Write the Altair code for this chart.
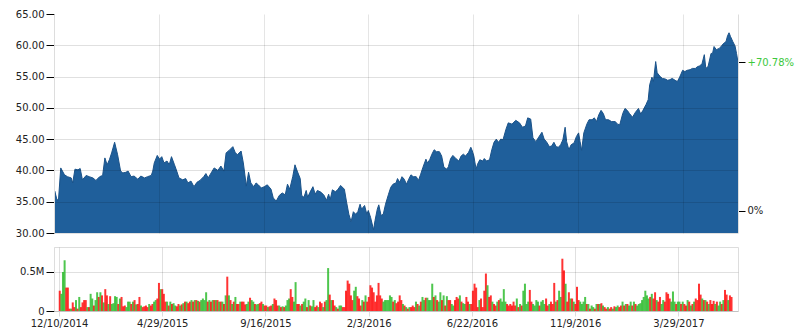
import altair as alt
import pandas as pd

# ---------------- data ----------------
start_date = "2014-12-10"
end_date = "2017-06-11"
tick_dates = ["2014-12-10", "2015-04-29", "2015-09-16", "2016-02-03",
              "2016-06-22", "2016-11-09", "2017-03-29"]

price_days = [
    0, 1, 4, 6, 9, 14, 18, 23, 25, 28,
    32, 35, 38, 43, 47, 52, 56, 61, 65, 68,
    71, 74, 77, 81, 85, 89, 92, 96, 99, 103,
    107, 112, 116, 121, 125, 130, 132, 134, 138, 141,
    144, 147, 151, 154, 157, 161, 164, 167, 172, 176,
    179, 183, 187, 191, 195, 200, 203, 206, 210, 214,
    219, 223, 227, 230, 234, 239, 242, 245, 250, 253,
    257, 260, 263, 267, 270, 273, 277, 281, 285, 290,
    293, 297, 301, 305, 309, 312, 315, 319, 322, 325,
    329, 331, 334, 337, 339, 342, 346, 349, 352, 357,
    361, 364, 367, 369, 372, 376, 379, 383, 388, 391,
    394, 397, 400, 403, 406, 409, 411, 415, 418, 420,
    423, 427, 429, 432, 434, 437, 440, 443, 447, 450,
    453, 457, 459, 462, 465, 468, 471, 474, 477, 480,
    484, 487, 490, 493, 497, 499, 502, 505, 508, 511,
    515, 518, 521, 525, 527, 530, 533, 537, 541, 544,
    547, 550, 554, 557, 559, 561, 564, 566, 569, 573,
    575, 578, 582, 585, 588, 591, 594, 597, 600, 604,
    607, 612, 617, 622, 626, 630, 633, 637, 640, 644,
    647, 652, 655, 658, 662, 665, 668, 671, 674, 677,
    680, 683, 685, 688, 691, 695, 698, 701, 703, 705,
    708, 712, 715, 719, 722, 725, 728, 731, 734, 737,
    741, 745, 750, 753, 756, 760, 763, 766, 769, 773,
    777, 781, 784, 787, 791, 794, 796, 799, 801, 804,
    806, 810, 813, 817, 820, 823, 826, 830, 833, 836,
    840, 843, 846, 850, 853, 857, 860, 863, 866, 869,
    871, 874, 878, 880, 882, 885, 889, 892, 894, 898,
    900, 902, 904, 907, 910, 912, 914,
]
prices = [
    33.55, 36.7, 35.3, 35.3, 40.4, 39.3, 39.0, 38.8, 38.0, 40.2,
    40.1, 40.3, 38.5, 39.2, 39.0, 38.8, 38.4, 39.0, 39.2, 42.0,
    40.9, 41.7, 42.8, 44.5, 42.5, 39.9, 39.6, 39.7, 39.9, 39.0,
    39.1, 38.6, 39.1, 38.8, 39.0, 39.2, 39.9, 41.2, 42.4, 41.8,
    42.2, 41.2, 41.5, 40.9, 42.2, 40.9, 39.9, 38.8, 38.5, 38.7,
    38.0, 38.3, 37.4, 38.1, 38.4, 39.0, 39.5, 38.8, 39.6, 40.4,
    40.0, 40.7, 39.9, 42.8, 43.2, 43.8, 42.9, 42.5, 43.1, 41.2,
    37.5, 39.7, 38.0, 37.4, 38.0, 37.7, 37.2, 37.4, 37.7, 37.0,
    35.6, 35.1, 36.0, 36.4, 36.1, 37.8, 37.0, 39.0, 40.9, 39.9,
    38.7, 36.0, 35.7, 36.8, 35.7, 36.5, 37.4, 36.2, 36.8, 36.5,
    36.0, 35.2, 36.2, 35.3, 36.9, 36.6, 36.9, 37.6, 37.0, 34.9,
    33.0, 31.8, 33.4, 33.0, 33.4, 34.6, 33.8, 34.4, 33.0, 33.6,
    32.5, 30.5, 32.0, 33.8, 34.5, 32.8, 33.0, 34.6, 36.2, 37.3,
    37.8, 38.0, 38.7, 38.1, 39.0, 38.6, 37.8, 38.6, 39.3, 39.0,
    39.0, 38.4, 39.4, 40.5, 41.8, 41.2, 41.7, 42.6, 43.3, 43.0,
    43.0, 42.3, 40.5, 40.2, 40.6, 41.9, 42.4, 41.9, 41.5, 42.3,
    42.6, 42.3, 42.9, 43.7, 43.1, 42.3, 40.2, 41.0, 41.7, 41.5,
    41.9, 41.5, 41.7, 43.3, 44.5, 45.0, 44.5, 45.0, 44.9, 46.6,
    47.6, 47.4, 48.0, 47.6, 46.9, 47.1, 48.4, 48.2, 45.2, 44.6,
    45.2, 46.1, 45.0, 44.6, 43.8, 43.9, 44.5, 43.8, 43.7, 44.1,
    44.9, 46.9, 44.6, 43.3, 44.1, 44.4, 45.4, 46.0, 44.6, 43.2,
    46.0, 47.4, 48.1, 48.1, 48.4, 47.8, 48.9, 49.6, 49.1, 48.1,
    48.1, 47.8, 47.8, 47.4, 47.3, 49.1, 49.9, 49.6, 49.1, 48.5,
    49.3, 49.9, 49.0, 49.6, 50.5, 51.3, 53.7, 54.9, 54.2, 57.4,
    55.6, 55.0, 54.7, 54.6, 54.4, 54.5, 54.7, 54.4, 54.2, 54.9,
    56.0, 55.8, 56.0, 56.1, 56.3, 56.3, 56.6, 56.7, 57.1, 58.5,
    56.3, 56.6, 58.7, 58.7, 59.8, 59.3, 59.5, 59.9, 60.2, 60.6,
    61.5, 62.0, 61.4, 60.6, 59.9, 58.7, 57.3,
]
base_price = 33.55          # price at the "0%" mark
pct_ticks = [0, 70.78]      # right-hand labels
price_ticks = [30, 35, 40, 45, 50, 55, 60, 65]
price_grid = [30, 35, 40, 45, 50, 55, 60]

# volume (millions) and direction (u = up day, d = down day)
vol_a = [0.26, 0.22, 0.50, 0.65, 0.30, 0.30, 0.03, 0.03, 0.11, 0.05,
         0.14, 0.03, 0.18, 0.05, 0.11, 0.14, 0.14, 0.05, 0.05, 0.22,
         0.16, 0.07, 0.14, 0.24, 0.18, 0.24, 0.20, 0.11, 0.28, 0.20,
         0.09, 0.19, 0.09, 0.10, 0.19, 0.18, 0.09, 0.16, 0.18, 0.06,
         0.07, 0.05, 0.12, 0.12, 0.09, 0.12, 0.14, 0.085, 0.09, 0.18,
         0.07, 0.05, 0.06, 0.07, 0.05, 0.09, 0.07, 0.09, 0.12, 0.14,
         0.16, 0.36, 0.28, 0.28, 0.22, 0.12, 0.12, 0.07, 0.12, 0.09,
         0.10, 0.07, 0.06, 0.09, 0.07, 0.085, 0.10, 0.12, 0.12, 0.10,
         0.12, 0.14, 0.12, 0.14, 0.14, 0.13, 0.12, 0.14, 0.16, 0.14,
         0.24, 0.12, 0.14, 0.12, 0.14, 0.14, 0.14, 0.14, 0.12, 0.12,
         0.12, 0.09, 0.20, 0.44, 0.20, 0.14, 0.09, 0.12, 0.18, 0.09,
         0.09, 0.12, 0.12, 0.12, 0.085, 0.09, 0.12, 0.17, 0.14, 0.12,
         0.09, 0.085, 0.09, 0.10, 0.12, 0.09, 0.07, 0.07, 0.05, 0.06]
dir_a = ("duuudddudd" "ududdddudu" "uduudududd" "uduuuududd"
         "duuudududd" "uddddudduu" "ddudddudud" "uuddududud"
         "dudududuuu" "ududududud" "ududududud" "duddduuduu"
         "duudduddud")

vol_b = [0.07, 0.09, 0.16, 0.14, 0.07, 0.07, 0.05, 0.06, 0.05, 0.07,
         0.14, 0.16, 0.28, 0.18, 0.12, 0.37, 0.09, 0.09, 0.07, 0.09,
         0.12, 0.16, 0.05, 0.14, 0.07, 0.06, 0.14, 0.05, 0.07, 0.05,
         0.12, 0.10, 0.05, 0.12, 0.14, 0.55, 0.21, 0.14, 0.14, 0.07,
         0.05, 0.03, 0.07, 0.07, 0.05, 0.05, 0.26, 0.39, 0.35, 0.20,
         0.14, 0.26, 0.31, 0.19, 0.16, 0.07, 0.14, 0.12, 0.20, 0.12,
         0.18, 0.33, 0.30, 0.24, 0.12, 0.20, 0.36, 0.20, 0.16, 0.12,
         0.14, 0.14, 0.14, 0.20, 0.18, 0.12, 0.14, 0.10, 0.12, 0.20,
         0.14, 0.09, 0.07, 0.05, 0.03, 0.05, 0.05, 0.07, 0.05, 0.12,
         0.09, 0.07, 0.12, 0.18, 0.14, 0.17, 0.17, 0.14, 0.14, 0.35,
         0.18, 0.20, 0.14, 0.12, 0.24, 0.14, 0.20, 0.07, 0.19, 0.14,
         0.14, 0.09, 0.07, 0.14, 0.18, 0.16, 0.20, 0.12, 0.10, 0.09,
         0.18, 0.12, 0.09, 0.09, 0.26, 0.35, 0.30, 0.05, 0.14, 0.16,
         0.05, 0.26, 0.48, 0.33, 0.18, 0.20, 0.12, 0.09, 0.07, 0.12,
         0.14, 0.16, 0.12, 0.28, 0.12, 0.09, 0.07, 0.09, 0.07, 0.12,
         0.07, 0.16, 0.05, 0.09, 0.07, 0.26, 0.35]
dir_b = ("dudddududu" "uudduuddud" "uududuuddu" "dduduududd"
         "uduudddddd" "duudddudud" "dddddddddu" "uuuuududdd"
         "dudududddu" "duduuduuuu" "duduududud" "duuddduduu"
         "ddudddddud" "dddudduddu" "duuuuddddd" "dududuu")

vol_c = [0.09, 0.12, 0.27, 0.12, 0.09, 0.07, 0.14, 0.12, 0.07, 0.12,
         0.14, 0.09, 0.16, 0.07, 0.09, 0.12, 0.09, 0.36, 0.12, 0.14,
         0.26, 0.18, 0.67, 0.52, 0.35, 0.12, 0.24, 0.16, 0.16, 0.12,
         0.09, 0.31, 0.14, 0.12, 0.09, 0.12, 0.18, 0.09, 0.09, 0.03,
         0.07, 0.05, 0.03, 0.09, 0.09, 0.09, 0.10, 0.07, 0.05, 0.03,
         0.05, 0.03, 0.05, 0.03, 0.06, 0.05, 0.07, 0.05, 0.07, 0.12,
         0.07, 0.09, 0.09, 0.07, 0.12, 0.07, 0.12, 0.09, 0.07, 0.09,
         0.10, 0.14, 0.18, 0.26, 0.20, 0.16, 0.18, 0.22, 0.16, 0.24,
         0.14, 0.12, 0.18, 0.09, 0.14, 0.12, 0.24, 0.22, 0.16, 0.12,
         0.25, 0.12, 0.09, 0.12, 0.12, 0.09, 0.12, 0.09, 0.07, 0.14,
         0.12, 0.07, 0.09, 0.12, 0.16, 0.14, 0.35, 0.21, 0.16, 0.14,
         0.14, 0.12, 0.09, 0.14, 0.09, 0.13, 0.09, 0.12, 0.07, 0.12,
         0.09, 0.14, 0.27, 0.21, 0.14, 0.20, 0.18]
dir_c = ("uudduuuudu" "uuddudddud" "uudduddudu" "ddduuuudud"
         "uududududd" "udduduuddu" "duduududuu" "uuuuuududd"
         "udduuddddu" "uuduududdu" "dududdddud" "ududdduduu"
         "duddudd")

vol_start = "2014-12-11"
vol_end = "2017-06-09"

# ---------------- tables ----------------
t0 = pd.Timestamp(start_date)
price_df = pd.DataFrame({
    "date": [(t0 + pd.Timedelta(days=d)).strftime("%Y-%m-%dT00:00:00") for d in price_days],
    "price": prices,
})
grid_df = pd.DataFrame({"level": price_grid})
pct_df = pd.DataFrame({"pct": pct_ticks})

vols = vol_a + vol_b + vol_c
dirs = list(dir_a + dir_b + dir_c)
n = min(len(vols), len(dirs))
vol_dates = pd.date_range(vol_start, vol_end, periods=n)
vol_df = pd.DataFrame({
    "date": [d.strftime("%Y-%m-%dT%H:%M:%S") for d in vol_dates],
    "vol": vols[:n],
    "dir": dirs[:n],
})


def dt(s):
    t = pd.Timestamp(s)
    return alt.DateTime(year=t.year, month=t.month, date=t.day)


x_domain = [dt(start_date), dt(end_date)]
tick_dt = [dt(s) for s in tick_dates]

W, H_TOP, H_BOT = 684, 219, 64

# ---------------- top panel ----------------
x_top = alt.X("date:T", scale=alt.Scale(domain=x_domain),
              axis=alt.Axis(values=tick_dt, labels=False, ticks=False, domain=False,
                            grid=True, gridOpacity=0.1, title=None, zindex=1))

area = alt.Chart(price_df).mark_area(
    color="#1f5f9b", opacity=1, line={"color": "#1a5289", "strokeWidth": 1}, clip=True
).encode(
    x=x_top,
    y=alt.Y("price:Q", scale=alt.Scale(domain=[30, 65], nice=False, zero=False),
            axis=alt.Axis(values=price_ticks, format=".2f", title=None, tickSize=8,
                          labelPadding=2, zindex=1, grid=False)),
)

hgrid = alt.Chart(grid_df).mark_rule(
    color="#000000", opacity=0.12, strokeWidth=1, yOffset=0.5
).encode(
    y=alt.Y("level:Q", scale=alt.Scale(domain=[30, 65], nice=False, zero=False, round=True),
            axis=None),
)

lo = (30 / base_price - 1) * 100
hi = (65 / base_price - 1) * 100
pct_layer = alt.Chart(pct_df).mark_rule(opacity=0).encode(
    y=alt.Y("pct:Q",
            scale=alt.Scale(domain=[lo, hi], nice=False, zero=False),
            axis=alt.Axis(orient="right", values=pct_ticks, grid=False, title=None,
                          tickSize=7, labelPadding=2,
                          labelExpr="datum.value == 0 ? '0%' : '+' + format(datum.value, '.2f') + '%'",
                          labelColor={"condition": {"test": "datum.value > 0", "value": "#3cc83c"},
                                      "value": "#222222"})),
)

top = alt.layer(area, hgrid, pct_layer).resolve_scale(y="independent").properties(
    width=W, height=H_TOP)

# ---------------- volume panel ----------------
bars = alt.Chart(vol_df).mark_bar(size=2, opacity=0.8).encode(
    x=alt.X("date:T", scale=alt.Scale(domain=x_domain),
            axis=alt.Axis(values=tick_dt, format="%-m/%-d/%Y", grid=True, title=None,
                          tickColor="#dddddd", tickSize=5, domain=False, labelPadding=2,
                          labelFlush=False)),
    y=alt.Y("vol:Q", scale=alt.Scale(domain=[0, 0.82], nice=False),
            axis=alt.Axis(values=[0, 0.5], title=None, tickSize=8, labelPadding=2, grid=True,
                          labelExpr="datum.value == 0 ? '0' : format(datum.value, '.1f') + 'M'")),
    color=alt.Color("dir:N", scale=alt.Scale(domain=["u", "d"], range=["#22b822", "#ff0000"]),
                    legend=None),
).properties(width=W, height=H_BOT, view=alt.ViewBackground(stroke="#dddddd"))

chart = alt.vconcat(top, bars, spacing=14, bounds="flush").properties(
    padding={"left": 14, "top": 8, "right": 5, "bottom": 5}
).configure(font="DejaVu Sans").configure_axis(
    labelFont="DejaVu Sans", labelFontSize=10, labelColor="#222222",
    gridColor="#000000", gridOpacity=0.12, domainColor="#dddddd", tickColor="#000000",
).configure_view(stroke="transparent")

chart.save("out.html", embed_options={"renderer": "svg", "actions": False})
